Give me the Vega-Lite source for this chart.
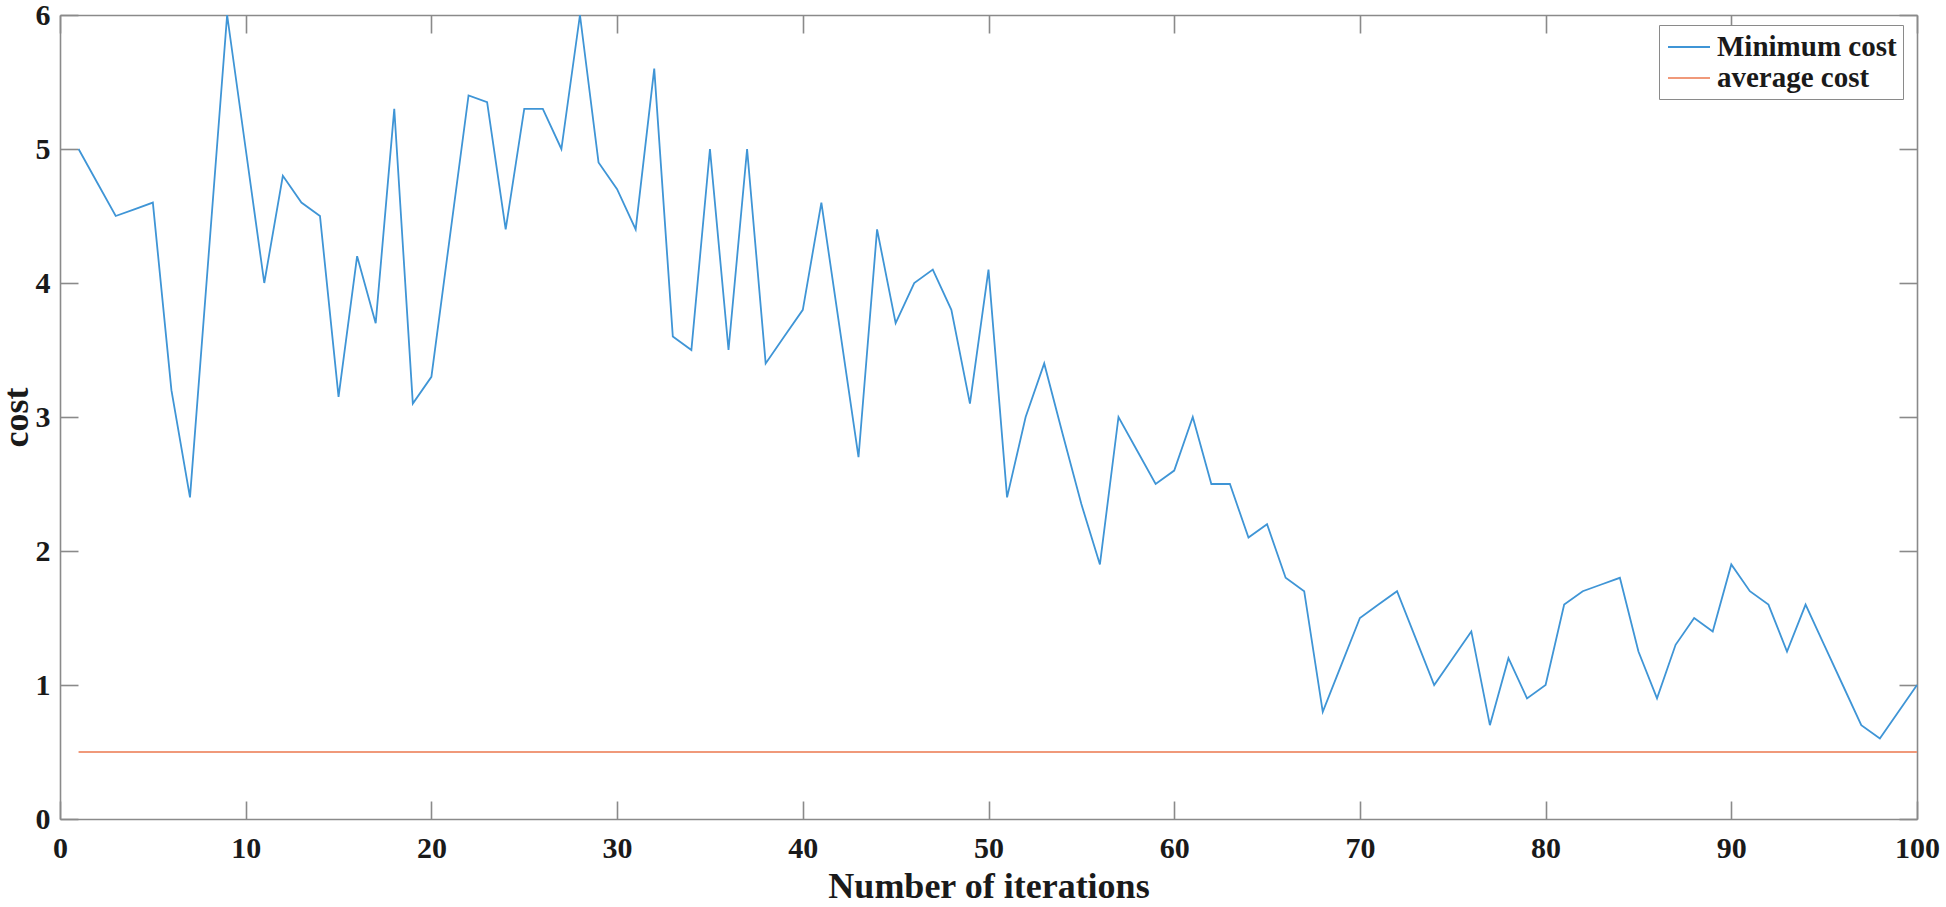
{
  "$schema": "https://vega.github.io/schema/vega-lite/v6.json",
  "width": 1857,
  "height": 804,
  "autosize": "none",
  "padding": {"left": 60, "top": 15, "right": 29, "bottom": 88},
  "background": "white",
  "config": {
    "view": {"stroke": null},
    "font": "Liberation Serif",
    "axis": {
      "domainColor": "#8a8a8a",
      "domainWidth": 1.6,
      "tickColor": "#8a8a8a",
      "tickWidth": 1.6,
      "tickSize": -18,
      "grid": false,
      "labelFont": "Liberation Serif",
      "labelFontWeight": "bold",
      "labelFontSize": 30,
      "labelColor": "#1a1a1a",
      "titleFont": "Liberation Serif",
      "titleFontWeight": "bold",
      "titleFontSize": 36,
      "titleColor": "#1a1a1a"
    }
  },
  "data": {
    "values": [
      {"iteration": 1, "Minimum cost": 5.0, "average cost": 0.5},
      {"iteration": 2, "Minimum cost": 4.75, "average cost": 0.5},
      {"iteration": 3, "Minimum cost": 4.5, "average cost": 0.5},
      {"iteration": 4, "Minimum cost": 4.55, "average cost": 0.5},
      {"iteration": 5, "Minimum cost": 4.6, "average cost": 0.5},
      {"iteration": 6, "Minimum cost": 3.2, "average cost": 0.5},
      {"iteration": 7, "Minimum cost": 2.4, "average cost": 0.5},
      {"iteration": 8, "Minimum cost": 4.2, "average cost": 0.5},
      {"iteration": 9, "Minimum cost": 6.0, "average cost": 0.5},
      {"iteration": 10, "Minimum cost": 5.0, "average cost": 0.5},
      {"iteration": 11, "Minimum cost": 4.0, "average cost": 0.5},
      {"iteration": 12, "Minimum cost": 4.8, "average cost": 0.5},
      {"iteration": 13, "Minimum cost": 4.6, "average cost": 0.5},
      {"iteration": 14, "Minimum cost": 4.5, "average cost": 0.5},
      {"iteration": 15, "Minimum cost": 3.15, "average cost": 0.5},
      {"iteration": 16, "Minimum cost": 4.2, "average cost": 0.5},
      {"iteration": 17, "Minimum cost": 3.7, "average cost": 0.5},
      {"iteration": 18, "Minimum cost": 5.3, "average cost": 0.5},
      {"iteration": 19, "Minimum cost": 3.1, "average cost": 0.5},
      {"iteration": 20, "Minimum cost": 3.3, "average cost": 0.5},
      {"iteration": 21, "Minimum cost": 4.35, "average cost": 0.5},
      {"iteration": 22, "Minimum cost": 5.4, "average cost": 0.5},
      {"iteration": 23, "Minimum cost": 5.35, "average cost": 0.5},
      {"iteration": 24, "Minimum cost": 4.4, "average cost": 0.5},
      {"iteration": 25, "Minimum cost": 5.3, "average cost": 0.5},
      {"iteration": 26, "Minimum cost": 5.3, "average cost": 0.5},
      {"iteration": 27, "Minimum cost": 5.0, "average cost": 0.5},
      {"iteration": 28, "Minimum cost": 6.0, "average cost": 0.5},
      {"iteration": 29, "Minimum cost": 4.9, "average cost": 0.5},
      {"iteration": 30, "Minimum cost": 4.7, "average cost": 0.5},
      {"iteration": 31, "Minimum cost": 4.4, "average cost": 0.5},
      {"iteration": 32, "Minimum cost": 5.6, "average cost": 0.5},
      {"iteration": 33, "Minimum cost": 3.6, "average cost": 0.5},
      {"iteration": 34, "Minimum cost": 3.5, "average cost": 0.5},
      {"iteration": 35, "Minimum cost": 5.0, "average cost": 0.5},
      {"iteration": 36, "Minimum cost": 3.5, "average cost": 0.5},
      {"iteration": 37, "Minimum cost": 5.0, "average cost": 0.5},
      {"iteration": 38, "Minimum cost": 3.4, "average cost": 0.5},
      {"iteration": 39, "Minimum cost": 3.6, "average cost": 0.5},
      {"iteration": 40, "Minimum cost": 3.8, "average cost": 0.5},
      {"iteration": 41, "Minimum cost": 4.6, "average cost": 0.5},
      {"iteration": 42, "Minimum cost": 3.65, "average cost": 0.5},
      {"iteration": 43, "Minimum cost": 2.7, "average cost": 0.5},
      {"iteration": 44, "Minimum cost": 4.4, "average cost": 0.5},
      {"iteration": 45, "Minimum cost": 3.7, "average cost": 0.5},
      {"iteration": 46, "Minimum cost": 4.0, "average cost": 0.5},
      {"iteration": 47, "Minimum cost": 4.1, "average cost": 0.5},
      {"iteration": 48, "Minimum cost": 3.8, "average cost": 0.5},
      {"iteration": 49, "Minimum cost": 3.1, "average cost": 0.5},
      {"iteration": 50, "Minimum cost": 4.1, "average cost": 0.5},
      {"iteration": 51, "Minimum cost": 2.4, "average cost": 0.5},
      {"iteration": 52, "Minimum cost": 3.0, "average cost": 0.5},
      {"iteration": 53, "Minimum cost": 3.4, "average cost": 0.5},
      {"iteration": 54, "Minimum cost": 2.87, "average cost": 0.5},
      {"iteration": 55, "Minimum cost": 2.35, "average cost": 0.5},
      {"iteration": 56, "Minimum cost": 1.9, "average cost": 0.5},
      {"iteration": 57, "Minimum cost": 3.0, "average cost": 0.5},
      {"iteration": 58, "Minimum cost": 2.75, "average cost": 0.5},
      {"iteration": 59, "Minimum cost": 2.5, "average cost": 0.5},
      {"iteration": 60, "Minimum cost": 2.6, "average cost": 0.5},
      {"iteration": 61, "Minimum cost": 3.0, "average cost": 0.5},
      {"iteration": 62, "Minimum cost": 2.5, "average cost": 0.5},
      {"iteration": 63, "Minimum cost": 2.5, "average cost": 0.5},
      {"iteration": 64, "Minimum cost": 2.1, "average cost": 0.5},
      {"iteration": 65, "Minimum cost": 2.2, "average cost": 0.5},
      {"iteration": 66, "Minimum cost": 1.8, "average cost": 0.5},
      {"iteration": 67, "Minimum cost": 1.7, "average cost": 0.5},
      {"iteration": 68, "Minimum cost": 0.8, "average cost": 0.5},
      {"iteration": 69, "Minimum cost": 1.15, "average cost": 0.5},
      {"iteration": 70, "Minimum cost": 1.5, "average cost": 0.5},
      {"iteration": 71, "Minimum cost": 1.6, "average cost": 0.5},
      {"iteration": 72, "Minimum cost": 1.7, "average cost": 0.5},
      {"iteration": 73, "Minimum cost": 1.35, "average cost": 0.5},
      {"iteration": 74, "Minimum cost": 1.0, "average cost": 0.5},
      {"iteration": 75, "Minimum cost": 1.2, "average cost": 0.5},
      {"iteration": 76, "Minimum cost": 1.4, "average cost": 0.5},
      {"iteration": 77, "Minimum cost": 0.7, "average cost": 0.5},
      {"iteration": 78, "Minimum cost": 1.2, "average cost": 0.5},
      {"iteration": 79, "Minimum cost": 0.9, "average cost": 0.5},
      {"iteration": 80, "Minimum cost": 1.0, "average cost": 0.5},
      {"iteration": 81, "Minimum cost": 1.6, "average cost": 0.5},
      {"iteration": 82, "Minimum cost": 1.7, "average cost": 0.5},
      {"iteration": 83, "Minimum cost": 1.75, "average cost": 0.5},
      {"iteration": 84, "Minimum cost": 1.8, "average cost": 0.5},
      {"iteration": 85, "Minimum cost": 1.25, "average cost": 0.5},
      {"iteration": 86, "Minimum cost": 0.9, "average cost": 0.5},
      {"iteration": 87, "Minimum cost": 1.3, "average cost": 0.5},
      {"iteration": 88, "Minimum cost": 1.5, "average cost": 0.5},
      {"iteration": 89, "Minimum cost": 1.4, "average cost": 0.5},
      {"iteration": 90, "Minimum cost": 1.9, "average cost": 0.5},
      {"iteration": 91, "Minimum cost": 1.7, "average cost": 0.5},
      {"iteration": 92, "Minimum cost": 1.6, "average cost": 0.5},
      {"iteration": 93, "Minimum cost": 1.25, "average cost": 0.5},
      {"iteration": 94, "Minimum cost": 1.6, "average cost": 0.5},
      {"iteration": 95, "Minimum cost": 1.3, "average cost": 0.5},
      {"iteration": 96, "Minimum cost": 1.0, "average cost": 0.5},
      {"iteration": 97, "Minimum cost": 0.7, "average cost": 0.5},
      {"iteration": 98, "Minimum cost": 0.6, "average cost": 0.5},
      {"iteration": 99, "Minimum cost": 0.8, "average cost": 0.5},
      {"iteration": 100, "Minimum cost": 1.0, "average cost": 0.5}
    ]
  },
  "transform": [
    {"fold": ["Minimum cost", "average cost"], "as": ["series", "cost"]}
  ],
  "resolve": {"axis": {"x": "independent", "y": "independent"}},
  "layer": [
    {
      "mark": {"type": "line", "strokeWidth": 1.8},
      "encoding": {
        "x": {
          "field": "iteration",
          "type": "quantitative",
          "scale": {"domain": [0, 100], "nice": false, "zero": false},
          "axis": {
            "orient": "bottom",
            "values": [0, 10, 20, 30, 40, 50, 60, 70, 80, 90, 100],
            "labelFlush": false,
            "labelPadding": 32,
            "labelBaseline": "top",
            "title": "Number of iterations",
            "titleX": 928.5,
            "titleY": 78,
            "titleBaseline": "alphabetic",
            "titleAnchor": "middle",
            "titleAlign": "center"
          }
        },
        "y": {
          "field": "cost",
          "type": "quantitative",
          "scale": {"domain": [0, 6], "nice": false, "zero": true},
          "axis": {
            "orient": "left",
            "values": [0, 1, 2, 3, 4, 5, 6],
            "labelPadding": 28,
            "labelFlush": false,
            "title": "cost",
            "titleX": -44,
            "titleY": 402,
            "titleAngle": -90,
            "titleBaseline": "middle",
            "titleAlign": "center",
            "titleAnchor": "middle"
          }
        },
        "color": {
          "field": "series",
          "type": "nominal",
          "scale": {
            "domain": ["Minimum cost", "average cost"],
            "range": ["#3f95d6", "#f0997a"]
          },
          "legend": {
            "title": null,
            "orient": "none",
            "legendX": 1599,
            "legendY": 10,
            "direction": "vertical",
            "symbolType": "M-1.4,0H1.4",
            "symbolSize": 900,
            "symbolStrokeWidth": 2,
            "symbolFillColor": "transparent",
            "symbolOffset": 8,
            "labelFont": "Liberation Serif",
            "labelFontWeight": "bold",
            "labelFontSize": 29,
            "labelColor": "#1a1a1a",
            "labelOffset": 12,
            "labelLimit": 0,
            "rowPadding": 0,
            "padding": 6,
            "strokeColor": "#8a8a8a",
            "fillColor": "white"
          }
        }
      }
    },
    {
      "mark": {"type": "line", "opacity": 0},
      "encoding": {
        "x": {
          "field": "iteration",
          "type": "quantitative",
          "axis": {
            "orient": "top",
            "values": [0, 10, 20, 30, 40, 50, 60, 70, 80, 90, 100],
            "labels": false,
            "title": null
          }
        },
        "y": {
          "field": "cost",
          "type": "quantitative",
          "axis": {
            "orient": "right",
            "values": [0, 1, 2, 3, 4, 5, 6],
            "labels": false,
            "title": null
          }
        }
      }
    }
  ]
}
